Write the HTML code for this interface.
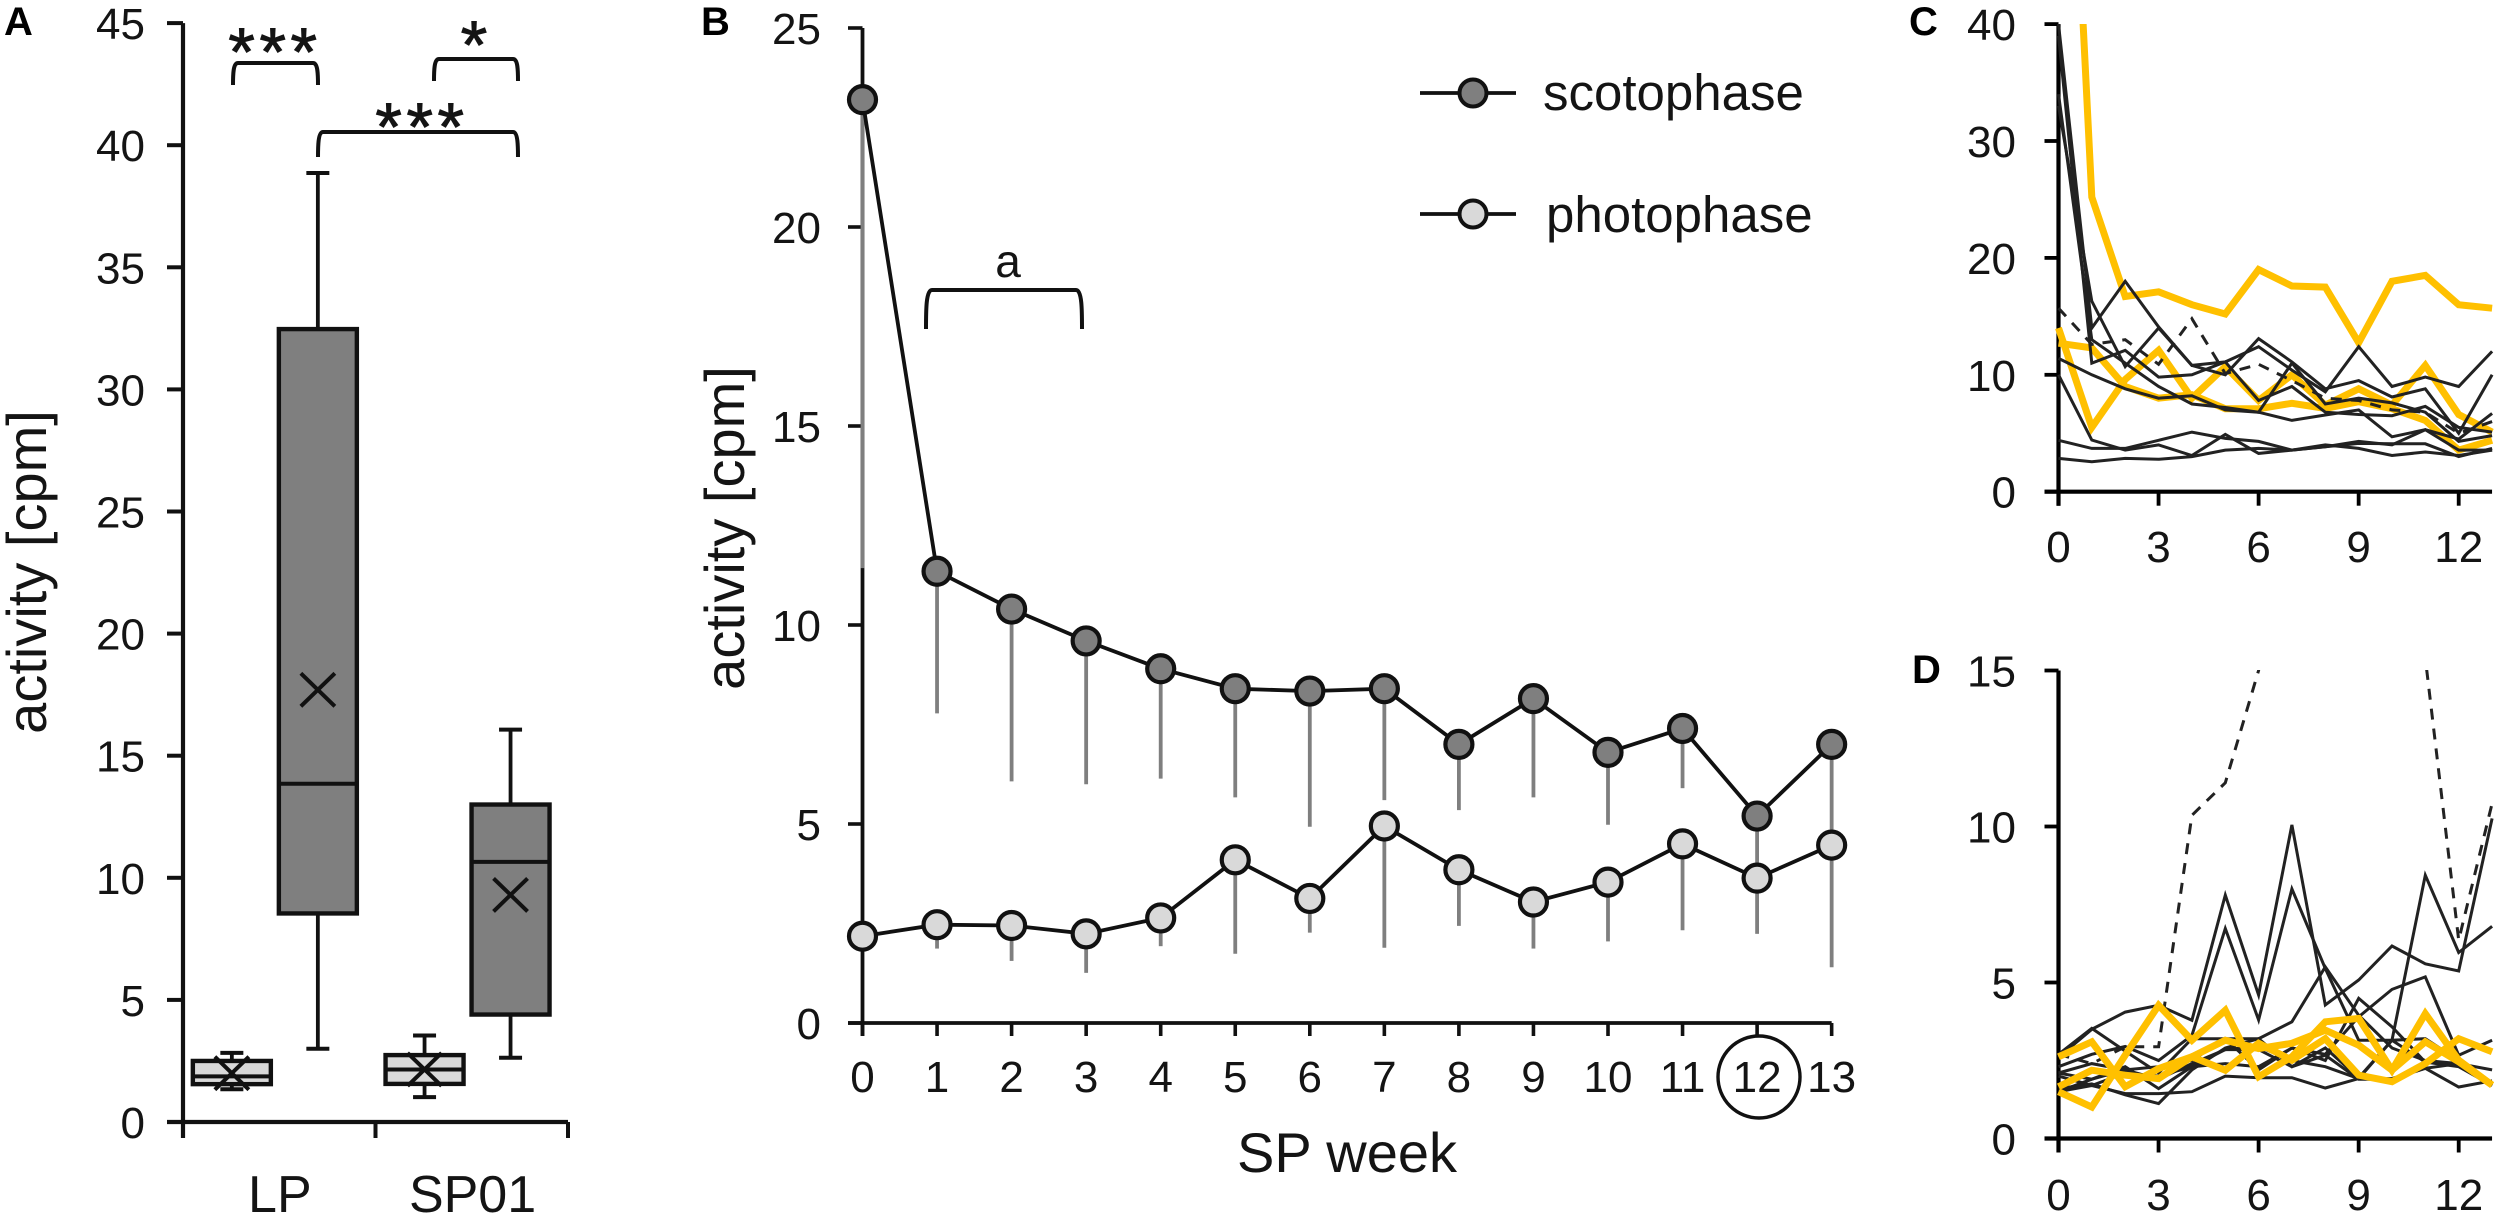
<!DOCTYPE html>
<html lang="en">
<head>
<meta charset="utf-8">
<title>Activity charts</title>
<style>
html,body{margin:0;padding:0;background:#fff;width:2500px;height:1220px;overflow:hidden}
svg{display:block}
text{font-family:"Liberation Sans",Arial,sans-serif;fill:#141414}
</style>
</head>
<body>
<svg id="fig" xmlns="http://www.w3.org/2000/svg" width="2500" height="1220" viewBox="0 0 2500 1220">
  <defs>
    <clipPath id="clip-c"><rect x="2050" y="24" width="444" height="470"/></clipPath>
    <clipPath id="clip-d"><rect x="2050" y="670" width="444" height="470"/></clipPath>
  </defs>
  <rect x="0" y="0" width="2500" height="1220" fill="#fff"/>

  <text x="4" y="35" font-size="40" font-weight="bold" style="fill:#000">A</text>
  <text x="701" y="35" font-size="40" font-weight="bold" style="fill:#000">B</text>
  <text x="1909" y="35" font-size="40" font-weight="bold" style="fill:#000">C</text>
  <text x="1912" y="683" font-size="40" font-weight="bold" style="fill:#000">D</text>

  <text transform="translate(46,572) rotate(-90)" text-anchor="middle" font-size="56">activity [cpm]</text>
  <text transform="translate(744,528) rotate(-90)" text-anchor="middle" font-size="56">activity [cpm]</text>
  <text x="1237" y="1172" font-size="56">SP week</text>

  <g fill="none" stroke="#111" stroke-width="4">
    <path d="M233,85 C233,75 233,63 238,63 L313,63 C318,63 318,75 318,85"/>
    <path d="M434,81 C434,71 434,59 439,59 L513,59 C518,59 518,71 518,81"/>
    <path d="M318,157 C318,147 318,132 323,132 L513,132 C518,132 518,147 518,157"/>
  </g>
  <text x="275" y="75" text-anchor="middle" font-size="68" letter-spacing="4.6" stroke="#141414" stroke-width="1">***</text>
  <text x="474" y="68" text-anchor="middle" font-size="68" stroke="#141414" stroke-width="1">*</text>
  <text x="422" y="150" text-anchor="middle" font-size="68" letter-spacing="4.6" stroke="#141414" stroke-width="1">***</text>

  <path d="M926,329 C926,310 926,290 932,290 L1076,290 C1082,290 1082,310 1082,329" fill="none" stroke="#111" stroke-width="4"/>
  <text x="1008" y="277" text-anchor="middle" font-size="46">a</text>

  <ellipse cx="1759" cy="1077" rx="41" ry="41" fill="none" stroke="#111" stroke-width="3.4"/>

  <g>
    <line x1="1420" y1="93" x2="1516" y2="93" stroke="#111" stroke-width="3.8"/>
    <circle cx="1473" cy="93" r="13.5" fill="#7f7f7f" stroke="#111" stroke-width="4"/>
    <text x="1543" y="110" font-size="51">scotophase</text>
    <line x1="1420" y1="214" x2="1516" y2="214" stroke="#111" stroke-width="3.8"/>
    <circle cx="1473" cy="214" r="13.5" fill="#d9d9d9" stroke="#111" stroke-width="4"/>
    <text x="1546" y="232" font-size="51">photophase</text>
  </g>
</svg>
<script>
// ---- Panel A data ----
const boxCategories = ['LP', 'SP01'];
const boxFills = ['#d9d9d9', '#7f7f7f'];
const boxLow = [[1.34, 3.0], [1.02, 2.63]];
const boxQ1 = [[1.55, 8.54], [1.56, 4.4]];
const boxMedian = [[1.87, 13.85], [2.15, 10.65]];
const boxQ3 = [[2.5, 32.47], [2.74, 13.0]];
const boxHigh = [[2.83, 38.86], [3.54, 16.07]];
const boxMean = [[2.0, 17.7], [2.15, 9.3]];
const ticksA = [0, 5, 10, 15, 20, 25, 30, 35, 40, 45];

// ---- Panel B data ----
const weeks = [0, 1, 2, 3, 4, 5, 6, 7, 8, 9, 10, 11, 12, 13];
const scotophase = [23.2, 11.35, 10.4, 9.6, 8.9, 8.4, 8.34, 8.4, 7.0, 8.15, 6.8, 7.4, 5.2, 7.0];
const scotophaseLow = [11.43, 7.78, 6.07, 6.0, 6.14, 5.67, 4.93, 5.6, 5.35, 5.67, 4.98, 5.9, 4.0, 4.5];
const photophase = [2.18, 2.47, 2.45, 2.24, 2.64, 4.1, 3.13, 4.95, 3.85, 3.04, 3.54, 4.5, 3.64, 4.47];
const photophaseLow = [2.18, 1.87, 1.56, 1.26, 1.93, 1.74, 2.27, 1.89, 2.44, 1.87, 2.05, 2.33, 2.24, 1.4];
const ticksB = [0, 5, 10, 15, 20, 25];

// ---- Panel C data ----
const ticksC = [0, 10, 20, 30, 40];
const ticksWeekSmall = [0, 3, 6, 9, 12];
const panelCBlack = [
  [40, 14, 18, 14.1, 10.8, 11.1, 12.4, 10.4, 8.55, 12.4, 9, 9.8, 9, 12],
  [33, 16.3, 10.7, 14, 10.8, 10, 13.1, 11.1, 8.8, 9.5, 8.1, 8.8, 5, 10],
  [39, 11, 12.1, 9.8, 10, 11.1, 7.8, 9, 6.8, 6.6, 6.5, 7.3, 5.5, 5.1],
  [34, 13, 11, 9, 7.5, 7.2, 6.8, 11, 7.5, 8, 7.6, 6.8, 4.3, 4.8],
  [11.4, 10, 8.8, 8, 8.2, 7, 6.8, 6.1, 6.56, 7, 4.7, 5.3, 4.5, 6.7],
  [10, 4.42, 3.56, 4, 3.1, 4.9, 3.28, 3.56, 3.85, 4.13, 4.1, 4.1, 3, 3.7],
  [4.4, 3.7, 3.7, 4.4, 5.1, 4.56, 4.3, 3.56, 3.85, 4.3, 4, 5.3, 3.56, 3.56],
  [2.85, 2.57, 2.85, 2.77, 3, 3.56, 3.7, 3.56, 4, 3.7, 3.1, 3.4, 3.1, 3.56]
];
const panelCDashed = [15.7, 12.6, 13, 10.9, 14.8, 10.1, 10.9, 9.5, 8, 7.8, 7, 6.8, 5, 6];
const panelCYellow = [
  [82, 25.2, 16.7, 17.1, 16, 15.2, 19, 17.6, 17.5, 12.75, 18, 18.5, 16, 15.7],
  [14, 5.5, 9.6, 12.1, 8, 10.7, 7.8, 10, 7.4, 8.8, 7.4, 10.8, 6.6, 5.1],
  [12.7, 12.3, 9, 8, 8.3, 7.1, 7.1, 7.56, 7.13, 7.7, 7.1, 6.1, 3.56, 4.4]
];

// ---- Panel D data ----
const ticksD = [0, 5, 10, 15];
const panelDBlack = [
  [2.6, 3.5, 4.05, 4.27, 3.79, 7.8, 4.6, 10.05, 4.28, 5.08, 6.17, 5.6, 5.37, 10.26],
  [2.3, 2.7, 2.95, 2.5, 3.3, 6.73, 3.8, 8.0, 5.45, 3.15, 3.15, 2.45, 2.35, 1.76],
  [1.5, 1.9, 2.2, 1.9, 2.4, 2.85, 2.95, 2.5, 2.3, 1.92, 3.15, 8.44, 5.96, 6.8],
  [2.1, 2.4, 2.2, 2.3, 2.5, 3.2, 2.2, 2.9, 2.7, 3.9, 4.78, 5.18, 2.67, 3.15],
  [2.7, 3.53, 2.8, 2.1, 3.2, 3.2, 3.2, 3.74, 5.5, 3.95, 2.9, 2.5, 2.4, 1.7],
  [2.0, 1.7, 2.1, 2.0, 2.3, 2.4, 2.3, 2.9, 2.5, 4.49, 3.58, 2.45, 2.3, 1.7],
  [1.5, 1.7, 1.44, 1.44, 1.5, 2.0, 1.95, 1.95, 1.62, 1.92, 1.92, 2.25, 1.65, 1.85],
  [2.1, 1.9, 2.3, 1.6, 2.3, 2.85, 2.85, 2.3, 2.67, 1.9, 1.9, 2.25, 2.4, 2.2],
  [1.6, 1.75, 1.4, 1.12, 2.2, 2.9, 3.2, 2.3, 2.9, 1.95, 3.15, 3.2, 2.5, 1.7]
];
const panelDDashed = [2.7, 2.4, 2.94, 2.94, 10.36, 11.4, 15, 30, 30, 30, 30, 15.4, 6.36, 10.74];
const panelDYellow = [
  [1.5, 1.01, 2.67, 4.27, 3.15, 4.11, 1.98, 2.62, 3.74, 3.85, 2.19, 4.0, 2.51, 1.71],
  [2.62, 3.1, 1.66, 2.24, 2.62, 2.19, 3.05, 2.51, 3.2, 2.03, 1.82, 2.4, 3.2, 2.78],
  [1.66, 2.19, 2.03, 1.92, 2.62, 3.15, 2.88, 3.05, 3.47, 2.99, 2.19, 3.1, 2.46, 1.71]
];

// ---- Axis functions ----
const yA = v => 1122 - 24.42 * v;
const xAGroup = g => 183 + (g + 0.5) * 192.7 - 4.5;
const xABox = (g, s) => xAGroup(g) + (s - 0.5) * 86;
const yB = v => 1023 - 39.8 * v;
const xB = w => 862.5 + 74.55 * w;
const yC = v => 491.7 - 11.69 * v;
const xC = w => 2058.5 + 33.35 * w;
const yD = v => 1138.5 - 31.2 * v;
const xD = w => 2058.5 + 33.35 * w;

const svg = document.getElementById('fig');
const NS = 'http://www.w3.org/2000/svg';
function mk(tag, attrs, parent) {
  const el = document.createElementNS(NS, tag);
  for (const k in attrs) el.setAttribute(k, attrs[k]);
  (parent || svg).appendChild(el);
  return el;
}
function ln(x1, y1, x2, y2, stroke, width, parent) {
  return mk('line', { x1: x1, y1: y1, x2: x2, y2: y2, stroke: stroke, 'stroke-width': width }, parent);
}
function pts(vals, fx, fy) {
  return vals.map((v, i) => fx(weeks[i]).toFixed(1) + ',' + fy(v).toFixed(1)).join(' ');
}
const INK = '#111';

// ---- Panel A ----
{
  let el;
  el = ln(183, yA(45), 183, yA(0) + 16, INK, 4.2);
  
  
  el = ln(167, yA(0), 568, yA(0), INK, 4.2);
  
  
  ticksA.forEach(t => {
    let m = ln(167, yA(t), 183, yA(t), INK, 4);
    
    
    let lb = mk('text', { x: 145, y: yA(t) + 16, 'text-anchor': 'end', 'font-size': 44 });
    lb.textContent = t;
    
    
  });
  [0, 1, 2].forEach(i => {
    let m = ln(183 + i * 192.5, yA(0), 183 + i * 192.5, yA(0) + 16, INK, 4);
    
    
  });
  boxCategories.forEach((c, g) => {
    let lb = mk('text', { x: xAGroup(g) + 5, y: 1212, 'text-anchor': 'middle', 'font-size': 52 });
    lb.textContent = c;
    
    
    [0, 1].forEach(s => {
      const cx = xABox(g, s);
      const hw = 39;
      let w = ln(cx, yA(boxHigh[g][s]), cx, yA(boxLow[g][s]), INK, 3.8);
      
      
      let c1 = ln(cx - 11.5, yA(boxHigh[g][s]), cx + 11.5, yA(boxHigh[g][s]), INK, 4);
      
      
      let c2 = ln(cx - 11.5, yA(boxLow[g][s]), cx + 11.5, yA(boxLow[g][s]), INK, 4);
      
      
      let r = mk('rect', { x: cx - hw, y: yA(boxQ3[g][s]), width: hw * 2, height: yA(boxQ1[g][s]) - yA(boxQ3[g][s]), fill: boxFills[s], stroke: INK, 'stroke-width': 4.4 });
      
      
      let md = ln(cx - hw, yA(boxMedian[g][s]), cx + hw, yA(boxMedian[g][s]), INK, 4);
      
      
      const my = yA(boxMean[g][s]);
      let xm = mk('path', { d: `M${cx - 17},${my - 16.5} L${cx + 17},${my + 16.5} M${cx + 17},${my - 16.5} L${cx - 17},${my + 16.5}`, fill: 'none', stroke: INK, 'stroke-width': 4 });
      
      
    });
  });
}

// ---- Panel B ----
{
  let el;
  el = ln(862.5, yB(25), 862.5, yB(0) + 13, INK, 3.8);
  
  
  el = ln(848, yB(0), xB(13), yB(0), INK, 3.8);
  
  
  ticksB.forEach(t => {
    let m = ln(848, yB(t), 862.5, yB(t), INK, 3.6);
    
    
    let lb = mk('text', { x: 821, y: yB(t) + 16, 'text-anchor': 'end', 'font-size': 44 });
    lb.textContent = t;
    
    
  });
  weeks.forEach(w => {
    let m = ln(xB(w), yB(0), xB(w), yB(0) + 13, INK, 3.6);
    
    
    let lb = mk('text', { x: xB(w), y: 1092, 'text-anchor': 'middle', 'font-size': 44 });
    lb.textContent = w;
    
    
  });
  weeks.forEach((w, i) => {
    let e1 = ln(xB(w), yB(scotophase[i]), xB(w), yB(scotophaseLow[i]), '#7f7f7f', 3.8);
    
    
    let e2 = ln(xB(w), yB(photophase[i]), xB(w), yB(photophaseLow[i]), '#7f7f7f', 3.8);
    
    
  });
  let l1 = mk('polyline', { points: pts(scotophase, xB, yB), fill: 'none', stroke: INK, 'stroke-width': 3.8 });
  
  
  let l2 = mk('polyline', { points: pts(photophase, xB, yB), fill: 'none', stroke: INK, 'stroke-width': 3.8 });
  
  
  weeks.forEach((w, i) => {
    let p1 = mk('circle', { cx: xB(w), cy: yB(scotophase[i]), r: 13.5, fill: '#7f7f7f', stroke: INK, 'stroke-width': 4.2 });
    
    
    let p2 = mk('circle', { cx: xB(w), cy: yB(photophase[i]), r: 13.5, fill: '#d9d9d9', stroke: INK, 'stroke-width': 4.2 });
    
    
  });
}

// ---- Panel C ----
{
  let el;
  el = ln(2058.5, yC(40), 2058.5, yC(0) + 14, '#000', 4.2);
  
  
  el = ln(2044.5, yC(0), xC(13), yC(0), '#000', 4.2);
  
  
  ticksC.forEach(t => {
    let m = ln(2044.5, yC(t), 2058.5, yC(t), '#000', 3.8);
    
    
    let lb = mk('text', { x: 2016, y: yC(t) + 16, 'text-anchor': 'end', 'font-size': 44 });
    lb.textContent = t;
    
    
  });
  ticksWeekSmall.forEach(t => {
    let m = ln(xC(t), yC(0), xC(t), yC(0) + 14, '#000', 3.8);
    
    
    let lb = mk('text', { x: xC(t), y: 562, 'text-anchor': 'middle', 'font-size': 44 });
    lb.textContent = t;
    
    
  });
  const g = mk('g', { 'clip-path': 'url(#clip-c)' });
  
  
  panelCYellow.forEach(s => {
    let p = mk('polyline', { points: pts(s, xC, yC), fill: 'none', stroke: '#ffc000', 'stroke-width': 7, 'stroke-linejoin': 'miter' }, g);
    
    
  });
  panelCBlack.forEach(s => {
    let p = mk('polyline', { points: pts(s, xC, yC), fill: 'none', stroke: '#222', 'stroke-width': 3 }, g);
    
    
  });
  let dash = mk('polyline', { points: pts(panelCDashed, xC, yC), fill: 'none', stroke: '#222', 'stroke-width': 3, 'stroke-dasharray': '11 9' }, g);
  
  
}

// ---- Panel D ----
{
  let el;
  el = ln(2058.5, yD(15), 2058.5, yD(0) + 14, '#000', 4.2);
  
  
  el = ln(2044.5, yD(0), xD(13), yD(0), '#000', 4.2);
  
  
  ticksD.forEach(t => {
    let m = ln(2044.5, yD(t), 2058.5, yD(t), '#000', 3.8);
    
    
    let lb = mk('text', { x: 2016, y: yD(t) + 16, 'text-anchor': 'end', 'font-size': 44 });
    lb.textContent = t;
    
    
  });
  ticksWeekSmall.forEach(t => {
    let m = ln(xD(t), yD(0), xD(t), yD(0) + 14, '#000', 3.8);
    
    
    let lb = mk('text', { x: xD(t), y: 1210, 'text-anchor': 'middle', 'font-size': 44 });
    lb.textContent = t;
    
    
  });
  const g = mk('g', { 'clip-path': 'url(#clip-d)' });
  
  
  panelDBlack.forEach(s => {
    let p = mk('polyline', { points: pts(s, xD, yD), fill: 'none', stroke: '#222', 'stroke-width': 3 }, g);
    
    
  });
  let dash = mk('polyline', { points: pts(panelDDashed, xD, yD), fill: 'none', stroke: '#222', 'stroke-width': 3, 'stroke-dasharray': '11 9' }, g);
  
  
  panelDYellow.forEach(s => {
    let p = mk('polyline', { points: pts(s, xD, yD), fill: 'none', stroke: '#ffc000', 'stroke-width': 7 }, g);
    
    
  });
}
</script>
</body>
</html>
